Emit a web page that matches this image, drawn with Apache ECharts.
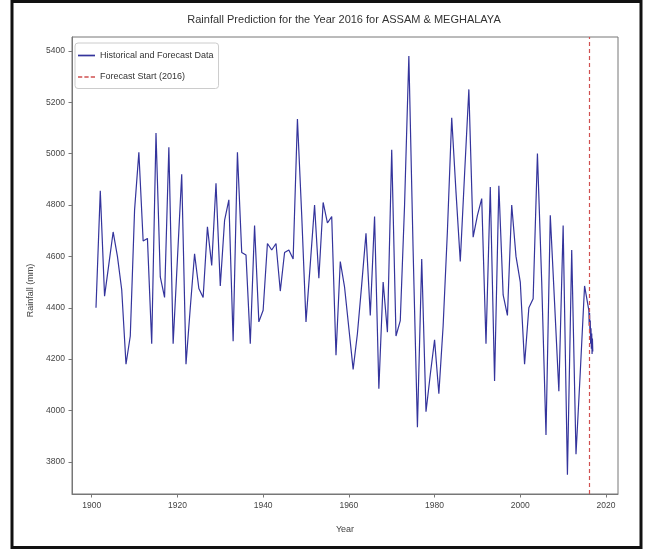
<!DOCTYPE html>
<html>
<head>
<meta charset="utf-8">
<script src="https://cdn.jsdelivr.net/npm/echarts@6/dist/echarts.min.js"></script>
<style>
html,body{margin:0;padding:0;background:#fff;}
#chart{width:645px;height:552px;}
</style>
</head>
<body>
<div id="chart"></div>
<script>
// ---- data ----
const firstYear = 1901;
const rainfall = [
  4400, 4855, 4445, 4570, 4695, 4600, 4470, 4180, 4290, 4780,   // 1901-1910
  5005, 4660, 4670, 4260, 5080, 4520, 4440, 5025, 4260, 4590,   // 1911-1920
  4920, 4180, 4400, 4610, 4475, 4440, 4715, 4565, 4885, 4485,   // 1921-1930
  4740, 4820, 4270, 5005, 4615, 4605, 4260, 4720, 4345, 4390,   // 1931-1940
  4650, 4625, 4650, 4465, 4615, 4625, 4590, 5135, 4760, 4345,   // 1941-1950
  4570, 4800, 4515, 4810, 4730, 4755, 4215, 4580, 4480, 4320,   // 1951-1960
  4160, 4300, 4490, 4690, 4370, 4755, 4085, 4500, 4305, 5015,   // 1961-1970
  4290, 4350, 4800, 5380, 4620, 3935, 4590, 3995, 4140, 4275,   // 1971-1980
  4065, 4330, 4700, 5140, 4850, 4580, 4920, 5250, 4675, 4760,   // 1981-1990
  4825, 4260, 4870, 4115, 4875, 4450, 4370, 4800, 4600, 4500,   // 1991-2000
  4180, 4400, 4435, 5000, 4500, 3905, 4760, 4420, 4075, 4720,   // 2001-2010
  3750, 4625, 3830, 4150, 4485                                  // 2011-2015
];
const forecastYears  = [2016.0, 2016.08, 2016.17, 2016.25, 2016.33, 2016.42, 2016.5, 2016.58, 2016.67, 2016.75, 2016.83, 2016.92];
const forecastValues = [4390, 4330, 4380, 4300, 4350, 4260, 4320, 4240, 4300, 4220, 4280, 4230];
const forecastStart = 2016;
const xTicks = [1900, 1920, 1940, 1960, 1980, 2000, 2020];
const yTicks = [3800, 4000, 4200, 4400, 4600, 4800, 5000, 5200, 5400];

const lineData = rainfall.map((v, i) => [firstYear + i, v])
  .concat(forecastYears.map((y, i) => [y, forecastValues[i]]));

const FONT = '"Liberation Sans", Arial, sans-serif';
const BLUE = '#34349c';
const RED = '#d05050';
const chart = echarts.init(document.getElementById('chart'), null, {renderer: 'canvas'});
chart.setOption({
  animation: false,
  backgroundColor: '#fff',
  graphic: [
    {
      type: 'rect', silent: true,
      shape: {x: 12, y: 1.5, width: 629, height: 546},
      style: {fill: 'none', stroke: '#111', lineWidth: 3}
    },
    {
      type: 'text', silent: true, x: 344, y: 20,
      style: {
        text: 'Rainfall Prediction for the Year 2016 for ASSAM & MEGHALAYA',
        font: '11px "Liberation Sans", Arial, sans-serif',
        fill: '#333', align: 'center', verticalAlign: 'middle'
      }
    }
  ],
  grid: {left: 72, top: 37, width: 546, height: 457, show: true, borderColor: '#777', borderWidth: 1, containLabel: false},
  legend: {
    orient: 'vertical', left: 75, top: 43,
    itemWidth: 17, itemHeight: 2, itemGap: 12.5,
    padding: [8, 5, 7, 3],
    backgroundColor: '#fff', borderColor: '#ccc', borderWidth: 1, borderRadius: 3,
    textStyle: {fontFamily: FONT, fontSize: 9, color: '#333'},
    data: [
      {name: 'Historical and Forecast Data', icon: 'path://M0,0h20v2h-20z'},
      {name: 'Forecast Start (2016)', icon: 'path://M0,0h5v2h-5z M7.5,0h5v2h-5z M15,0h5v2h-5z'}
    ]
  },
  xAxis: {
    type: 'value', min: 1895.4, max: 2022.8,
    name: 'Year', nameLocation: 'middle', nameGap: 31,
    nameTextStyle: {fontFamily: FONT, fontSize: 9, color: '#444'},
    axisLine: {show: true, lineStyle: {color: '#777', width: 1}},
    axisTick: {show: true, length: 3.5, lineStyle: {color: '#777'}, customValues: xTicks},
    axisLabel: {fontFamily: FONT, fontSize: 8.5, color: '#444', margin: 7, customValues: xTicks,
                formatter: v => String(v)},
    splitLine: {show: false}
  },
  yAxis: {
    type: 'value', min: 3675, max: 5454,
    name: 'Rainfall (mm)', nameLocation: 'middle', nameGap: 37, nameRotate: 90,
    nameMoveOverlap: false,
    nameTextStyle: {fontFamily: FONT, fontSize: 9, color: '#444', padding: [0, 50, 0, 0]},
    axisLine: {show: true, lineStyle: {color: '#777', width: 1}},
    axisTick: {show: true, length: 3.5, lineStyle: {color: '#777'}, customValues: yTicks},
    axisLabel: {fontFamily: FONT, fontSize: 8.5, color: '#444', margin: 7, customValues: yTicks,
                formatter: v => String(v)},
    splitLine: {show: false}
  },
  series: [
    {
      name: 'Historical and Forecast Data',
      type: 'line', data: lineData,
      showSymbol: false, symbol: 'none',
      lineStyle: {color: BLUE, width: 1.2},
      itemStyle: {color: BLUE}
    },
    {
      name: 'Forecast Start (2016)',
      type: 'line', data: [],
      symbol: 'none',
      lineStyle: {color: RED, width: 1.2, type: [4, 3]},
      itemStyle: {color: RED},
      markLine: {
        silent: true, symbol: ['none', 'none'],
        label: {show: false},
        lineStyle: {color: RED, width: 1.2, type: [4, 3]},
        data: [{xAxis: forecastStart}]
      }
    }
  ]
});
</script>
</body>
</html>
